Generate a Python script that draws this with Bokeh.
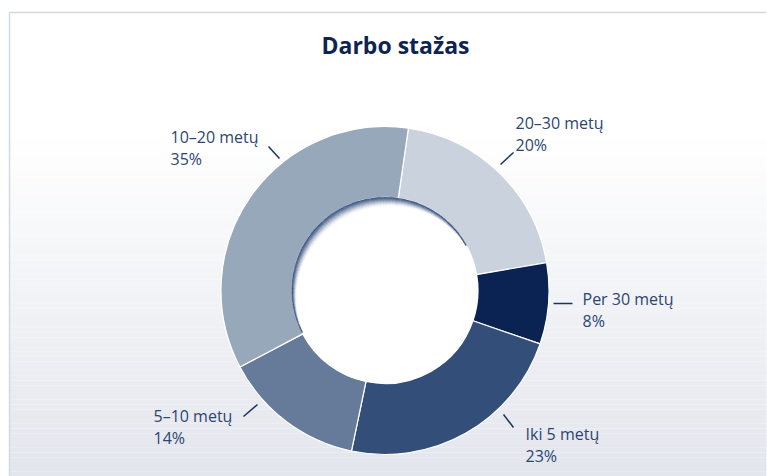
import numpy as np
from bokeh.plotting import figure
from bokeh.models import Range1d, ColumnDataSource
from bokeh.core.properties import value
from bokeh.embed import file_html
from bokeh.resources import INLINE

# ---- data (clockwise from top) ----
categories = ["20–30 metų", "Per 30 metų", "Iki 5 metų", "5–10 metų", "10–20 metų"]
shares = [20, 8, 23, 14, 35]
pct_labels = ["20%", "8%", "23%", "14%", "35%"]
colors = ["#cad2dd", "#0b2352", "#334e78", "#667b9a", "#98a8bb"]
title_text = "Darbo stažas"

# ---- layout ----
W, H = 767, 476
def Y(sy):  # screen y -> data y
    return H - sy

cx, cy = 384.5, Y(290)
R_OUT, R_IN = 164, 93
START_CW = 8.2  # degrees clockwise from 12 o'clock

p = figure(width=W, height=H, output_backend="svg", toolbar_location=None,
           x_range=Range1d(0, W), y_range=Range1d(0, H),
           min_border=0, outline_line_color=None)
p.axis.visible = False
p.grid.visible = False
p.background_fill_color = "white"
p.border_fill_color = "white"

# background gradient (white -> light grey-blue toward bottom)
g_top, g_bot = 140, 476
n = 70
edges = np.linspace(g_top, g_bot, n + 1)
c0 = np.array([255, 255, 255]); c1 = np.array([227, 230, 237])
cols = []
for i in range(n):
    t = (i + 0.5) / n
    c = (c0 + (c1 - c0) * t).astype(int)
    cols.append("#%02x%02x%02x" % tuple(c))
p.quad(left=9, right=766, top=[Y(e) for e in edges[:-1]], bottom=[Y(e) for e in edges[1:]],
       fill_color=cols, line_color=None)
# frame border (top & left)
p.segment(x0=[9, 9], y0=[Y(12), Y(12)], x1=[766, 9], y1=[Y(12), Y(476)],
          line_color="#d3d9e2", line_width=1.5)

# wedges
total = sum(shares)
cum = np.cumsum([0] + shares)
start_cw = START_CW + 360 * cum[:-1] / total
end_cw = START_CW + 360 * cum[1:] / total
src = ColumnDataSource(dict(
    start=np.radians(90 - start_cw), end=np.radians(90 - end_cw),
    color=colors, cat=categories))
p.annular_wedge(x=cx, y=cy, inner_radius=R_IN, outer_radius=R_OUT,
                start_angle="start", end_angle="end", direction="clock",
                fill_color="color", line_color="white", line_width=1.2, source=src)

# hole
p.circle(x=cx, y=cy, radius=R_IN, fill_color="white", line_color=None)

# inner shadow (upper-left)
angs = np.arange(20, 232, 2.0)
ir, orr, sa, ea, al = [], [], [], [], []
for a in angs:
    T = 10.5 * np.cos(np.radians(a - 118))
    if T <= 0.3:
        continue
    for d in np.arange(0, 11, 1.0):
        if d >= T:
            break
        alpha = 0.9 * (1 - d / T) ** 2
        ir.append(R_IN - d - 1); orr.append(R_IN - d + 0.5)
        sa.append(np.radians(a - 1.05)); ea.append(np.radians(a + 1.05)); al.append(alpha)
p.annular_wedge(x=cx, y=cy, inner_radius=ir, outer_radius=orr, start_angle=sa,
                end_angle=ea, fill_color="#36517d", fill_alpha=al, line_color=None)

# title
p.text(x=[395], y=[Y(44)], text=[title_text], text_font=value("Open Sans"),
       text_font_style="bold", text_font_size="23px", text_color="#0d2453",
       text_align="center", text_baseline="alphabetic")

# labels (layout: text left/first baseline and leader line ends, screen px)
lab_pos = [(515, 122), (582, 298), (525, 433), (153, 415), (170, 136)]
leaders = [((500, 164), (513, 152)), ((553, 303), (572, 303)), ((503, 414), (513, 427)),
           ((243, 416), (257, 404)), ((268, 146), (279, 158))]
lx = [q[0] for q in lab_pos]
p.text(x=lx, y=[Y(q[1]) for q in lab_pos], text=categories, text_font=value("Open Sans"),
       text_font_size="16px", text_color="#2d4571", text_baseline="alphabetic")
p.text(x=lx, y=[Y(q[1] + 22) for q in lab_pos], text=pct_labels, text_font=value("Open Sans"),
       text_font_size="16px", text_color="#2d4571", text_baseline="alphabetic")
p.segment(x0=[l[0][0] for l in leaders], y0=[Y(l[0][1]) for l in leaders],
          x1=[l[1][0] for l in leaders], y1=[Y(l[1][1]) for l in leaders],
          line_color="#1c3360", line_width=1.5)

open("out.html", "w").write(file_html(p, INLINE))
